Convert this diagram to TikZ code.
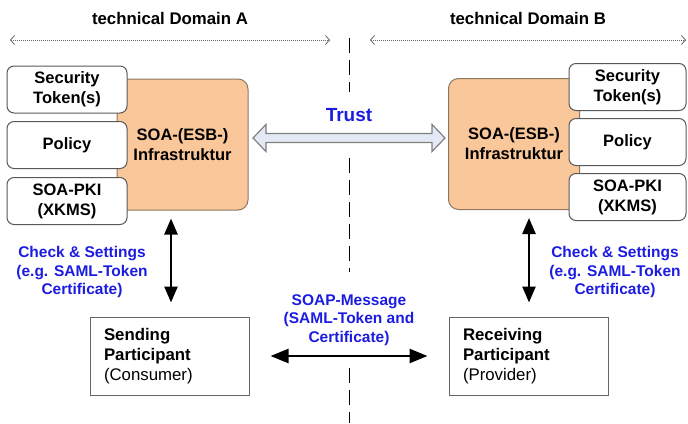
\documentclass[tikz,border=0pt]{standalone}
\usepackage{fontspec}
\setmainfont{Liberation Sans}
\usetikzlibrary{arrows.meta,calc}
\definecolor{soaorange}{RGB}{250,199,154}
\definecolor{soaedge}{RGB}{140,120,100}
\definecolor{labelblue}{RGB}{28,28,225}
\definecolor{trustfill}{RGB}{228,233,245}
\begin{document}
\begin{tikzpicture}[x=1pt,y=-1pt,
  domaintitle/.style={font=\bfseries\fontsize{16.8}{20}\selectfont},
  span/.style={draw=black!60, line width=0.8pt, dash pattern=on 1pt off 1pt,
    {Straight Barb[length=4pt,width=9pt]}-{Straight Barb[length=4pt,width=9pt]}},
  divider/.style={line width=1.4pt, dash pattern=on 15pt off 7pt},
  infra/.style={draw=soaedge, fill=soaorange, rounded corners=10pt, line width=1pt,
    minimum width=131pt, minimum height=131pt, align=center,
    font=\bfseries\fontsize{16.5}{20}\selectfont},
  tok/.style={draw=black!65, fill=white, rounded corners=7pt, line width=1pt,
    minimum width=120pt, minimum height=47pt, inner sep=0pt, align=center,
    font=\bfseries\fontsize{16.5}{20}\selectfont},
  party/.style={draw=black!60, line width=1pt, minimum height=78pt,
    text width=131pt, inner xsep=14pt, align=left,
    font=\bfseries\fontsize{16.8}{20}\selectfont},
  note/.style={text=labelblue, align=center,
    font=\bfseries\fontsize{15.5}{18.5}\selectfont},
  trustarrow/.style={draw=black!50, fill=trustfill, line width=1.2pt, line join=miter},
  bidir/.style={line width=2.5pt,
    {Triangle[width=13pt,length=16pt]}-{Triangle[width=13pt,length=16pt]}},
  msgarrow/.style={line width=2.5pt,
    {Triangle[width=14pt,length=18pt]}-{Triangle[width=14pt,length=18pt]}}]
\useasboundingbox (0,0) rectangle (688,423);

% domain headings and their extent
\node[domaintitle] (titleA) at (170,18) {technical Domain A};
\node[domaintitle] (titleB) at (528,18) {technical Domain B};
\coordinate (spanA1) at (10,40);  \coordinate (spanA2) at (330,40);
\coordinate (spanB1) at (370,40); \coordinate (spanB2) at (686,40);
\draw[span] (spanA1) -- (spanA2);
\draw[span] (spanB1) -- (spanB2);

% boundary between the domains
\draw[divider] (349.5,38) -- (349.5,92);
\draw[divider] (349.5,158) -- (349.5,272);
\draw[divider] (349.5,368) -- (349.5,423);

% infrastructure blocks
\node[infra] (infraA) at (182.5,144.5) {SOA-(ESB-)\\Infrastruktur};
\node[infra] (infraB) at (514,144) {SOA-(ESB-)\\Infrastruktur};

% components, domain A
\node[tok] (secA) at (67,89.5) {Security\\Token(s)};
\node[tok] (polA) at (67,145) {Policy};
\node[tok] (pkiA) at (67,201) {SOA-PKI\\(XKMS)};

% components, domain B
\node[tok, minimum width=117pt] (secB) at (627.5,87) {Security\\Token(s)};
\node[tok, minimum width=117pt] (polB) at (627.5,142) {Policy};
\node[tok, minimum width=117pt] (pkiB) at (627.5,197) {SOA-PKI\\(XKMS)};

% trust relation between the infrastructures
\node[text=labelblue, font=\bfseries\fontsize{19}{22}\selectfont] (trust) at (349,115) {Trust};
\coordinate (tA) at (253,138);
\coordinate (tB) at (445,138);
\draw[trustarrow] (tA) -- ++(13,-13.5) -- ++(0,9) -- ($(tB)+(-13,-4.5)$) -- ++(0,-9)
  -- (tB) -- ++(-13,13.5) -- ++(0,-9) -- ($(tA)+(13,4.5)$) -- ++(0,9) -- cycle;

% participants
\node[party] (sendA) at (169.5,356) {Sending\\Participant\\{\mdseries(Consumer)}};
\node[party] (recvB) at (528.5,356) {Receiving\\Participant\\{\mdseries(Provider)}};

% checks between participants and infrastructure
\draw[bidir, shorten <=14pt, shorten >=8pt] ([xshift=1.5pt]sendA.north) -- ([xshift=1.5pt]sendA.north |- infraA.south);
\draw[bidir, shorten <=14pt, shorten >=8pt] ([xshift=0.5pt]recvB.north) -- ([xshift=0.5pt]recvB.north |- infraB.south);
\node[note] (chkA) at (82,272) {Check \& Settings\\(e.g. SAML-Token\\Certificate)};
\node[note] (chkB) at (615,272) {Check \& Settings\\(e.g. SAML-Token\\Certificate)};

% message exchange
\node[note] (soap) at (349,320) {SOAP-Message\\(SAML-Token and\\Certificate)};
\draw[msgarrow, shorten <=21pt, shorten >=21pt] (sendA.east) -- (recvB.west);
\end{tikzpicture}
\end{document}
